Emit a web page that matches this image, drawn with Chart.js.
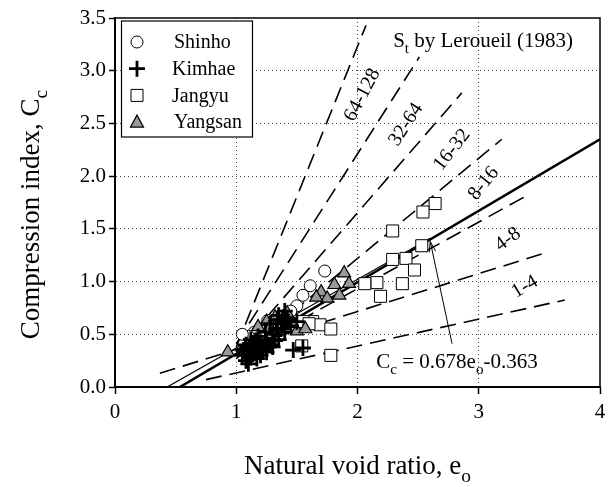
<!DOCTYPE html>
<html>
<head>
<meta charset="utf-8">
<script src="https://cdn.jsdelivr.net/npm/chart.js@4.4.1/dist/chart.umd.min.js"></script>
<style>
  html, body { margin: 0; padding: 0; background: #fff; }
  #wrap { width: 612px; height: 487px; }
</style>
</head>
<body>
<div id="wrap"><canvas id="chart"></canvas></div>
<script>
const serif = '"Times New Roman", "Liberation Serif", serif';

// measured points (e0 , Cc)
const shinhoE  = [1.73, 1.61, 1.55, 1.50, 1.45, 1.40, 1.35, 1.26, 1.20, 1.15, 1.10, 1.12, 1.25, 1.30, 1.18, 1.05];
const shinhoCc = [1.10, 0.96, 0.87, 0.77, 0.72, 0.68, 0.62, 0.63, 0.55, 0.52, 0.48, 0.42, 0.50, 0.55, 0.45, 0.50];

const kimhaeE  = [1.05, 1.08, 1.10, 1.12, 1.15, 1.15, 1.18, 1.20, 1.20, 1.22, 1.25, 1.25, 1.28, 1.30, 1.30, 1.33, 1.35, 1.38, 1.40, 1.42, 1.45, 1.47, 1.12, 1.08, 1.35, 1.40, 1.28, 1.50, 1.18, 1.55,
                  1.10, 1.14, 1.17, 1.22, 1.26, 1.32, 1.37, 1.43, 1.06, 1.24, 1.16, 1.34];
const kimhaeCc = [0.30, 0.25, 0.35, 0.28, 0.40, 0.32, 0.36, 0.30, 0.42, 0.38, 0.45, 0.33, 0.40, 0.50, 0.38, 0.55, 0.45, 0.60, 0.52, 0.65, 0.58, 0.35, 0.45, 0.40, 0.68, 0.72, 0.60, 0.62, 0.48, 0.37,
                  0.22, 0.37, 0.27, 0.34, 0.40, 0.44, 0.55, 0.62, 0.35, 0.52, 0.44, 0.64];

const jangyuE  = [2.64, 2.54, 2.29, 2.53, 2.29, 2.40, 2.47, 2.37, 2.16, 2.06, 2.19, 1.63, 1.69, 1.78, 1.54, 1.78, 1.55, 1.60];
const jangyuCc = [1.74, 1.66, 1.48, 1.34, 1.21, 1.22, 1.11, 0.98, 0.99, 0.98, 0.86, 0.62, 0.59, 0.55, 0.39, 0.30, 0.62, 0.60];

const yangsanE  = [1.89, 1.81, 1.93, 1.70, 1.85, 1.75, 1.66, 1.50, 1.57, 0.93, 1.25, 1.32, 1.38, 1.42, 1.18, 1.46, 1.28];
const yangsanCc = [1.08, 0.97, 0.98, 0.90, 0.87, 0.84, 0.85, 0.53, 0.55, 0.33, 0.62, 0.66, 0.64, 0.70, 0.57, 0.60, 0.56];

const seriesNames = ['Shinho', 'Kimhae', 'Jangyu', 'Yangsan'];

// St lines by Leroueil (1983): start and end points
const stStartE  = [1.00, 1.00, 1.00, 1.00, 1.00, 0.37, 0.75];
const stStartCc = [0.38, 0.41, 0.33, 0.27, 0.30, 0.13, 0.07];
const stEndE    = [2.07, 2.51, 2.86, 3.19, 3.42, 3.57, 3.71];
const stEndCc   = [3.43, 3.13, 2.79, 2.35, 1.83, 1.28, 0.825];

const stRanges  = ['64-128', '32-64', '16-32', '8-16', '4-8', '1-4'];
const stLabelE  = [2.04, 2.40, 2.78, 3.04, 3.24, 3.38];
const stLabelCc = [2.77, 2.49, 2.25, 1.93, 1.40, 0.95];
const stLabelRot = [-62, -57, -52, -51, -36, -31];

// regression Cc = 0.678e0 - 0.363 and the thin line
const fitE  = [0.535, 4.0];
const fitCc = [0, 2.349];
const thinE  = [0.43, 2.60];
const thinCc = [0, 1.41];

const arrowE  = [2.78, 2.60];
const arrowCc = [0.41, 1.38];

function pts(xs, ys) {
  return xs.map((x, i) => ({ x: x, y: ys[i] }));
}

function drawMarker(ctx, kind, x, y) {
  ctx.save();
  ctx.strokeStyle = '#000';
  ctx.beginPath();
  if (kind === 'circle') {
    ctx.lineWidth = 1;
    ctx.arc(x, y, 6, 0, Math.PI * 2);
    ctx.fillStyle = '#fff'; ctx.fill(); ctx.stroke();
  } else if (kind === 'cross') {
    ctx.lineWidth = 2.8;
    ctx.moveTo(x - 8, y); ctx.lineTo(x + 8, y);
    ctx.moveTo(x, y - 8); ctx.lineTo(x, y + 8);
    ctx.stroke();
  } else if (kind === 'rect') {
    ctx.lineWidth = 1;
    ctx.rect(x - 6, y - 6, 12, 12);
    ctx.fillStyle = '#fff'; ctx.fill(); ctx.stroke();
  } else {
    ctx.lineWidth = 1.2;
    ctx.moveTo(x, y - 7); ctx.lineTo(x + 6.5, y + 5); ctx.lineTo(x - 6.5, y + 5); ctx.closePath();
    ctx.fillStyle = '#999'; ctx.fill(); ctx.stroke();
  }
  ctx.restore();
}

// draw text with subscripts: parts = [[text, isSub], ...]
function drawRich(ctx, parts, x, y, size, align) {
  const subSize = size * 0.72;
  let total = 0;
  parts.forEach(p => {
    ctx.font = (p[1] ? subSize : size) + 'px ' + serif;
    total += ctx.measureText(p[0]).width;
  });
  let cx = align === 'center' ? x - total / 2 : x;
  ctx.textAlign = 'left';
  ctx.textBaseline = 'alphabetic';
  parts.forEach(p => {
    ctx.font = (p[1] ? subSize : size) + 'px ' + serif;
    ctx.fillText(p[0], cx, p[1] ? y + size * 0.28 : y);
    cx += ctx.measureText(p[0]).width;
  });
}

const extras = {
  id: 'extras',
  afterDraw(chart) {
    const ctx = chart.ctx;
    const a = chart.chartArea;
    const xs = chart.scales.x, ys = chart.scales.y;
    ctx.save();
    ctx.fillStyle = '#000';
    ctx.strokeStyle = '#000';

    // frame
    ctx.lineWidth = 1.5;
    ctx.strokeRect(a.left, a.top, a.right - a.left, a.bottom - a.top);

    // legend
    ctx.lineWidth = 1.2;
    ctx.fillStyle = '#fff';
    ctx.fillRect(121.5, 21, 131, 116);
    ctx.strokeRect(121.5, 21, 131, 116);
    const kinds = ['circle', 'cross', 'rect', 'triangle'];
    seriesNames.forEach((n, i) => {
      const yy = 42 + i * 26.7;
      drawMarker(ctx, kinds[i], 137, yy);
      ctx.fillStyle = '#000';
      ctx.font = '20px ' + serif;
      ctx.textAlign = 'left';
      ctx.textBaseline = 'middle';
      ctx.fillText(n, i === 0 || i === 3 ? 174 : 172, yy + 1);
    });

    // range labels along St lines
    ctx.fillStyle = '#000';
    stRanges.forEach((t, i) => {
      ctx.save();
      ctx.translate(xs.getPixelForValue(stLabelE[i]), ys.getPixelForValue(stLabelCc[i]));
      ctx.rotate(stLabelRot[i] * Math.PI / 180);
      ctx.font = '20px ' + serif;
      ctx.textAlign = 'center';
      ctx.textBaseline = 'middle';
      ctx.fillText(t, 0, 0);
      ctx.restore();
    });

    drawRich(ctx, [['S', false], ['t', true], [' by Leroueil (1983)', false]], 483, 47, 21, 'center');
    drawRich(ctx, [['C', false], ['c', true], [' = 0.678e', false], ['o', true], ['-0.363', false]], 457, 368, 21, 'center');

    // arrow to the regression line
    const x0 = xs.getPixelForValue(arrowE[0]), y0 = ys.getPixelForValue(arrowCc[0]);
    const x1 = xs.getPixelForValue(arrowE[1]), y1 = ys.getPixelForValue(arrowCc[1]);
    const ang = Math.atan2(y1 - y0, x1 - x0);
    ctx.lineWidth = 1;
    ctx.beginPath();
    ctx.moveTo(x0, y0); ctx.lineTo(x1, y1);
    ctx.moveTo(x1 - 11 * Math.cos(ang - 0.3), y1 - 11 * Math.sin(ang - 0.3));
    ctx.lineTo(x1, y1);
    ctx.lineTo(x1 - 11 * Math.cos(ang + 0.3), y1 - 11 * Math.sin(ang + 0.3));
    ctx.stroke();

    // axis titles
    drawRich(ctx, [['Natural void ratio, e', false], ['o', true]], (a.left + a.right) / 2, 474, 27, 'center');
    ctx.save();
    ctx.translate(39, (a.top + a.bottom) / 2 + 12);
    ctx.rotate(-Math.PI / 2);
    drawRich(ctx, [['Compression index, C', false], ['c', true]], 0, 0, 27, 'center');
    ctx.restore();

    ctx.restore();
  }
};

// first dataset in the array is painted last (on top)
const datasets = [];
datasets.push({ label: 'Kimhae', data: pts(kimhaeE, kimhaeCc), pointStyle: 'cross', pointRadius: 8,
  backgroundColor: '#000', borderColor: '#000', borderWidth: 2.8, showLine: false });
datasets.push({ label: 'Yangsan', data: pts(yangsanE, yangsanCc), pointStyle: 'triangle', pointRadius: 7.5,
  backgroundColor: '#999', borderColor: '#000', borderWidth: 1.2, showLine: false });
datasets.push({ label: 'Shinho', data: pts(shinhoE, shinhoCc), pointStyle: 'circle', pointRadius: 6,
  backgroundColor: '#fff', borderColor: '#000', borderWidth: 1, showLine: false });
datasets.push({ label: 'Jangyu', data: pts(jangyuE, jangyuCc), pointStyle: 'rect', pointRadius: 8.5,
  backgroundColor: '#fff', borderColor: '#000', borderWidth: 1, showLine: false });

datasets.push({ label: 'fit', data: pts(fitE, fitCc), showLine: true, pointRadius: 0,
  borderColor: '#000', borderWidth: 2.6 });
datasets.push({ label: 'thin', data: pts(thinE, thinCc), showLine: true, pointRadius: 0,
  borderColor: '#000', borderWidth: 1.2 });
stStartE.forEach((e, i) => {
  datasets.push({ label: 'st' + i,
    data: pts([e, stEndE[i]], [stStartCc[i], stEndCc[i]]),
    showLine: true, pointRadius: 0, borderColor: '#000', borderWidth: 1.6, borderDash: [16, 8] });
});

new Chart(document.getElementById('chart'), {
  type: 'scatter',
  data: { datasets: datasets },
  options: {
    responsive: true,
    maintainAspectRatio: false,
    animation: false,
    layout: { padding: { left: 0, right: 12, top: 18, bottom: 0 } },
    plugins: { legend: { display: false }, tooltip: { enabled: false } },
    scales: {
      x: {
        type: 'linear', min: 0, max: 4,
        ticks: { stepSize: 1, color: '#000', font: { family: serif, size: 21 }, padding: 6 },
        grid: {
          color: ctx => (ctx.tick && (ctx.tick.value === 0 || ctx.tick.value === 4)) ? 'rgba(0,0,0,0)' : '#444',
          tickColor: '#000', tickLength: 7, lineWidth: 1, tickWidth: 1.5
        },
        border: { display: true, color: '#000', width: 2, dash: [1, 3] },
        afterFit: s => { s.height = 100; }
      },
      y: {
        type: 'linear', min: 0, max: 3.5,
        ticks: { stepSize: 0.5, color: '#000', font: { family: serif, size: 21 }, padding: 3,
          callback: v => Number(v).toFixed(1) },
        grid: {
          color: ctx => (ctx.tick && (ctx.tick.value === 0 || ctx.tick.value === 3.5)) ? 'rgba(0,0,0,0)' : '#444',
          tickColor: '#000', tickLength: 6, lineWidth: 1, tickWidth: 1.5
        },
        border: { display: true, color: '#000', width: 2, dash: [1, 3] },
        afterFit: s => { s.width = 115; }
      }
    }
  },
  plugins: [extras]
});
</script>
</body>
</html>
